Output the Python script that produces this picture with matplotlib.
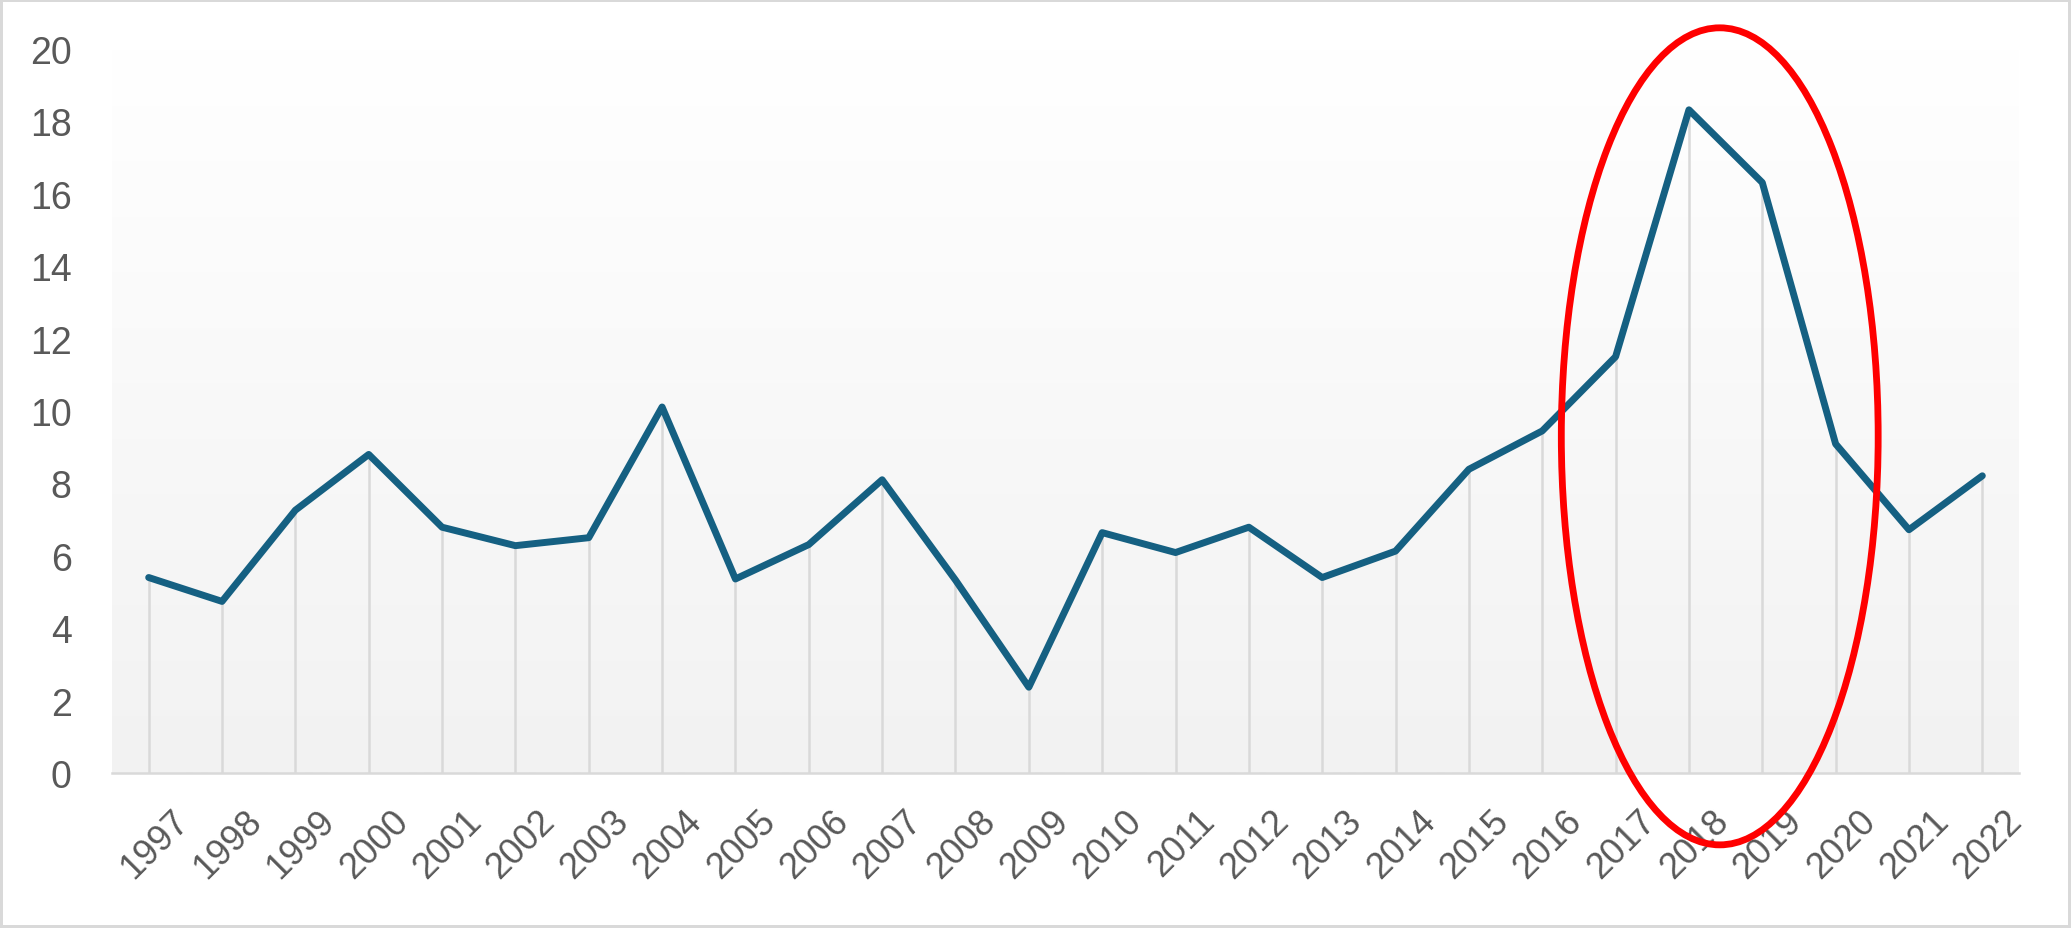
import numpy as np
import matplotlib
matplotlib.use("Agg")
import matplotlib.pyplot as plt
from matplotlib.patches import Ellipse, Rectangle
from matplotlib.colors import LinearSegmentedColormap
from matplotlib.transforms import ScaledTranslation

plt.rcParams['font.family'] = ['Liberation Sans', 'DejaVu Sans']

years = list(range(1997, 2023))
values = [5.40, 4.74, 7.26, 8.80, 6.79, 6.28, 6.50, 10.11, 5.36, 6.31,
          8.10, 5.33, 2.37, 6.64, 6.09, 6.79, 5.40, 6.13, 8.39, 9.45,
          11.50, 18.32, 16.31, 9.09, 6.72, 8.21]
y_ticks = [0, 2, 4, 6, 8, 10, 12, 14, 16, 18, 20]

# annotation ellipse (in data units: category index, value)
ell_center = (21.42, 9.30)
ell_width = 4.32
ell_height = 22.57

LINE_COLOR = '#156082'
GRID_COLOR = '#d9d9d9'
TEXT_COLOR = '#595959'

fig = plt.figure(figsize=(20.71, 9.29), dpi=100)
ax = fig.add_axes([0.05408, 0.16685, 0.92081, 0.77933])

x = np.arange(len(years))
ymax = y_ticks[-1]

grad = np.linspace(0, 1, 256).reshape(-1, 1)
cmap = LinearSegmentedColormap.from_list('g', ['#f2f2f2', '#ffffff'])
ax.imshow(grad, extent=(-0.5, len(years) - 0.5, 0, ymax), origin='lower',
          aspect='auto', cmap=cmap, zorder=0, interpolation='bilinear')

ax.vlines(x, 0, values, colors=GRID_COLOR, linewidth=1.8, zorder=1)
ax.plot(x, values, color=LINE_COLOR, lw=5.0, solid_joinstyle='round',
        solid_capstyle='round', zorder=3)

ax.set_xlim(-0.5, len(years) - 0.5)
ax.set_ylim(0, ymax)

for s in ['top', 'right', 'left']:
    ax.spines[s].set_visible(False)
ax.spines['bottom'].set_color(GRID_COLOR)
ax.spines['bottom'].set_linewidth(1.8)
ax.spines['bottom'].set_zorder(2)

ax.set_yticks(y_ticks)
ax.set_yticklabels([str(v) for v in y_ticks])
ax.set_xticks(x)
ax.set_xticklabels([str(y) for y in years], rotation=45, ha='right',
                   va='top', rotation_mode='anchor')
ax.tick_params(axis='both', length=0, labelcolor=TEXT_COLOR)
ax.tick_params(axis='y', pad=29, labelsize=27)
ax.tick_params(axis='x', pad=26, labelsize=26)

shift = ScaledTranslation(0.22, 0.06, fig.dpi_scale_trans)
for lab in ax.get_xticklabels():
    lab.set_transform(lab.get_transform() + shift)

ell = Ellipse(ell_center, ell_width, ell_height, fill=False, edgecolor='#ff0000',
              lw=4.9, clip_on=False, zorder=5)
ax.add_patch(ell)

fig.patches.append(Rectangle((0, 0), 1, 1, transform=fig.transFigure,
                             fill=False, edgecolor=GRID_COLOR, lw=4.3))

fig.savefig('out.png', dpi=100, facecolor='white')
